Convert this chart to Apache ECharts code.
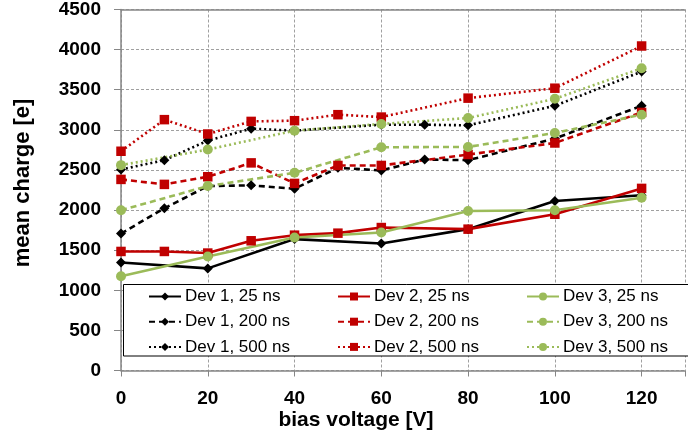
<!DOCTYPE html>
<html><head><meta charset="utf-8">
<script src="https://cdn.jsdelivr.net/npm/echarts@6/dist/echarts.min.js"></script>
<style>html,body{margin:0;padding:0;background:#fff}#c{width:688px;height:441px}</style>
</head><body><div id="c"></div><script>
// x values (bias voltage, V)
const xFull = [0, 10, 20, 30, 40, 50, 60, 80, 100, 120];
const xEven = [0, 20, 40, 60, 80, 100, 120];
const xD1_200 = [0, 10, 20, 30, 40, 50, 60, 70, 80, 100, 120];
const xD1_500 = [0, 10, 20, 30, 40, 60, 70, 80, 100, 120];
// mean charge [e]
const d1_25  = [1347, 1273, 1638, 1583, 1762, 2113, 2184];
const d2_25  = [1484, 1484, 1464, 1617, 1687, 1712, 1782, 1762, 1948, 2270];
const d3_25  = [1174, 1422, 1658, 1720, 1989, 1998, 2154];
const d1_200 = [1707, 2022, 2299, 2308, 2266, 2526, 2494, 2630, 2622, 2891, 3300];
const d2_200 = [2382, 2320, 2415, 2588, 2332, 2556, 2556, 2692, 2836, 3217];
const d3_200 = [1998, 2299, 2464, 2783, 2787, 2961, 3189];
const d1_500 = [2506, 2622, 2866, 3015, 2990, 3064, 3064, 3056, 3300, 3726];
const d2_500 = [2733, 3127, 2948, 3105, 3114, 3189, 3159, 3395, 3519, 4045];
const d3_500 = [2560, 2754, 2990, 3073, 3147, 3387, 3767];
const names = {
  d1_25: 'Dev 1, 25 ns', d2_25: 'Dev 2, 25 ns', d3_25: 'Dev 3, 25 ns',
  d1_200: 'Dev 1, 200 ns', d2_200: 'Dev 2, 200 ns', d3_200: 'Dev 3, 200 ns',
  d1_500: 'Dev 1, 500 ns', d2_500: 'Dev 2, 500 ns', d3_500: 'Dev 3, 500 ns'
};
const xTitle = 'bias voltage [V]';
const yTitle = 'mean charge [e]';

const BLACK = '#000000', RED = '#C00000', GREEN = '#9BBB59';
const DASH = [6, 4], DOT = [2, 3];
const zip = (xs, ys) => xs.map((x, i) => [x, ys[i]]);

function mk(name, xs, ys, color, symbol, dash) {
  return {
    name, type: 'line', data: zip(xs, ys),
    symbol, symbolSize: symbol === 'rect' ? 9.5 : 10,
    showAllSymbol: true,
    lineStyle: { color, width: 2.6, type: dash || 'solid' },
    itemStyle: { color, borderWidth: 0 },
    emphasis: { disabled: true },
    animation: false, z: 2
  };
}

const series = [
  mk(names.d1_25, xEven, d1_25, BLACK, 'diamond'),
  mk(names.d2_25, xFull, d2_25, RED, 'rect'),
  mk(names.d3_25, xEven, d3_25, GREEN, 'circle'),
  mk(names.d1_200, xD1_200, d1_200, BLACK, 'diamond', DASH),
  mk(names.d2_200, xFull, d2_200, RED, 'rect', DASH),
  mk(names.d3_200, xEven, d3_200, GREEN, 'circle', DASH),
  mk(names.d1_500, xD1_500, d1_500, BLACK, 'diamond', DOT),
  mk(names.d2_500, xFull, d2_500, RED, 'rect', DOT),
  mk(names.d3_500, xEven, d3_500, GREEN, 'circle', DOT)
];

const FONT = 'Liberation Sans';
function leg(left, items) {
  return {
    orient: 'vertical', left, top: 288, padding: 0,
    itemWidth: 32, itemHeight: 10, itemGap: 8.2,
    data: items, selectedMode: false, z: 6,
    textStyle: { fontFamily: FONT, fontSize: 17, color: '#000', lineHeight: 17, padding: [0, 0, 0, -1] }
  };
}

const chart = echarts.init(document.getElementById('c'));
chart.setOption({
  animation: false,
  grid: { left: 121, top: 7.5, right: -7, bottom: 70.5 },
  xAxis: [{
    type: 'value', min: 0, max: 130, interval: 20,
    axisLine: { show: true, lineStyle: { color: '#868686', width: 1.5 } },
    axisTick: { show: true, length: 6, lineStyle: { color: '#868686' } },
    axisLabel: { margin: 19, fontFamily: FONT, fontSize: 19, fontWeight: 'bold', color: '#000',
      formatter: v => (v % 20 === 0 ? String(v) : '') },
    splitLine: { show: true, lineStyle: { color: '#a0a0a0', type: [3, 2], width: 1 } }
  }, {
    type: 'value', position: 'top', min: 0, max: 130, interval: 20,
    axisLine: { show: true, lineStyle: { color: '#868686', width: 1.5 } },
    axisTick: { show: false }, axisLabel: { show: false }, splitLine: { show: false }
  }],
  yAxis: {
    type: 'value', min: 0, max: 4500, interval: 500,
    axisLine: { show: true, lineStyle: { color: '#868686', width: 1.5 } },
    axisTick: { show: true, length: 7, lineStyle: { color: '#868686' } },
    axisLabel: { margin: 20, fontFamily: FONT, fontSize: 19, fontWeight: 'bold', color: '#000',
      formatter: v => String(v) },
    splitLine: { show: true, lineStyle: { color: '#a0a0a0', type: [3, 2], width: 1 } }
  },
  title: {
    text: xTitle, left: 356, top: 410, textAlign: 'center', padding: 0,
    textStyle: { fontFamily: FONT, fontSize: 21, fontWeight: 'bold', color: '#000' }
  },
  legend: [
    leg(148, [names.d1_25, names.d1_200, names.d1_500]),
    leg(337, [names.d2_25, names.d2_200, names.d2_500]),
    leg(526, [names.d3_25, names.d3_200, names.d3_500])
  ],
  graphic: [{
    type: 'rect', z: 5,
    shape: { x: 123.5, y: 284.5, width: 600, height: 71.5 },
    style: { fill: '#fff', stroke: '#000', lineWidth: 1 }
  }, {
    type: 'text', z: 5, x: 23, y: 183, rotation: Math.PI / 2,
    style: { text: yTitle, fontFamily: FONT, fontSize: 22, fontWeight: 'bold', fill: '#000',
      align: 'center', verticalAlign: 'middle' }
  }],
  series
});
</script></body></html>
